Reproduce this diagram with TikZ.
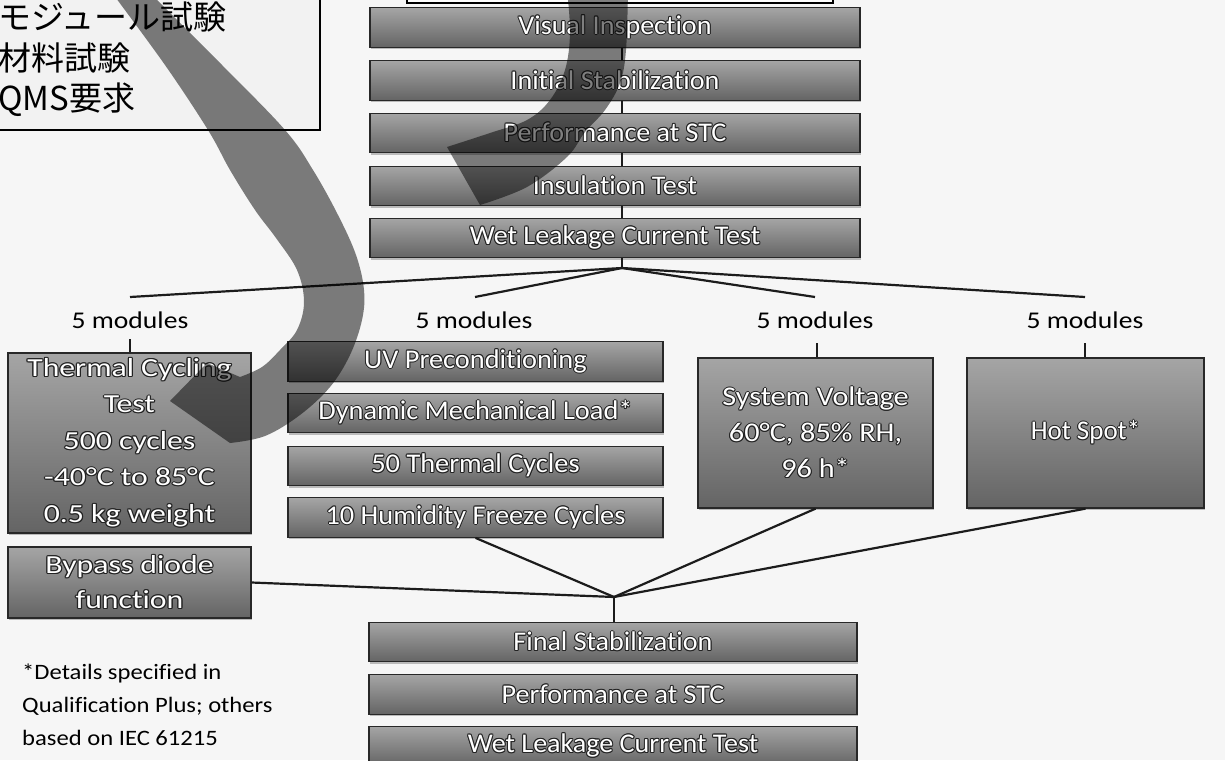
\documentclass[tikz,border=0pt]{standalone}
\usepackage{fontspec}
\setmainfont{Carlito}[Ligatures=NoCommon]
\newfontfamily\jpfont{Noto Sans CJK JP}
\usepackage{graphicx}
\usepackage{contour}
\contourlength{1.0pt}
\contournumber{8}
\usetikzlibrary{shadows}

\definecolor{bgc}{RGB}{246,246,246}
\definecolor{boxtop}{RGB}{165,165,165}
\definecolor{boxbot}{RGB}{100,100,100}
\definecolor{boxline}{RGB}{40,40,40}
\definecolor{glowc}{RGB}{35,35,35}
\definecolor{linec}{RGB}{28,28,28}
\definecolor{legendbg}{RGB}{242,242,242}

% white text with a dark glow, stretched horizontally by #1
\newcommand\gt[2]{\scalebox{#1}[1]{\contour{glowc}{#2}}}
% plain text stretched horizontally by #1
\newcommand\st[2]{\scalebox{#1}[1]{#2}}

\tikzset{
  testbox/.style={draw=boxline, line width=1.3pt, top color=boxtop, bottom color=boxbot,
    inner sep=0pt, text=white, align=center,
    drop shadow={shadow xshift=0.8pt, shadow yshift=-2pt, opacity=0.5}},
  stackbox/.style={testbox, minimum width=490pt, minimum height=39.5pt,
    font=\fontsize{27}{30}\selectfont},
  midbox/.style={testbox, minimum width=375pt, minimum height=39.5pt,
    font=\fontsize{27}{30}\selectfont},
  tallbox/.style={testbox, font=\fontsize{26}{36.5}\selectfont},
  modlabel/.style={inner sep=0pt, font=\fontsize{24}{26}\selectfont, text=black},
  link/.style={draw=linec, line width=1.6pt},
  fanline/.style={draw=linec, line width=2.2pt},
  sweep/.style={fill=black, fill opacity=0.5},
  jptext/.style={anchor=west, inner sep=0pt, font=\jpfont\fontsize{33}{36}\selectfont}
}

\begin{document}
\begin{tikzpicture}[x=1pt,y=-1pt]
\useasboundingbox (0,0) rectangle (1225,760);
\clip (0,0) rectangle (1225,760);
\fill[bgc] (0,0) rectangle (1225,760);

% legend frame, top left
\draw[fill=legendbg, line width=2pt] (-10,-10) rectangle (320,130);
\node[jptext] (jp1) at (-2,17.5) {モジュール試験};
\node[jptext] (jp2) at (-2,57.5) {材料試験};
\node[jptext] (jp3) at (-2,100) {QMS要求};

% frame at top centre
\draw[fill=white, line width=2pt] (407,-10) rectangle (833,3);

% initial sequence
\node[stackbox] (vis)   at (615,27.5) {\gt{1.04}{Visual Inspection}};
\node[stackbox] (init)  at (615,80.5) {\gt{1.04}{Initial Stabilization}};
\node[stackbox] (perf)  at (615,133)  {\gt{1.04}{Performance at STC}};
\node[stackbox] (insul) at (615,186)  {\gt{1.04}{Insulation Test}};
\node[stackbox] (wet)   at (615,238)  {\gt{1.04}{Wet Leakage Current Test}};

% module groups
\node[modlabel] (lb1) at (130,320)  {\st{1.15}{5 modules}};
\node[modlabel] (lb2) at (474,320)  {\st{1.15}{5 modules}};
\node[modlabel] (lb3) at (815,320)  {\st{1.15}{5 modules}};
\node[modlabel] (lb4) at (1085,320) {\st{1.15}{5 modules}};

\node[tallbox, minimum width=243pt, minimum height=180pt] (tcy) at (129.5,443)
  {\gt{1.22}{Thermal Cycling}\\ \gt{1.22}{Test}\\ \gt{1.22}{500 cycles}\\
   \gt{1.22}{-40°C to 85°C}\\ \gt{1.22}{0.5 kg weight}};
\node[tallbox, minimum width=243pt, minimum height=71pt,
  font=\fontsize{26}{35}\selectfont] (byp) at (129.5,582.5)
  {\gt{1.22}{Bypass diode}\\ \gt{1.22}{function}};

\node[midbox] (uv)  at (475.5,361.5) {\gt{1.05}{UV Preconditioning}};
\node[midbox] (dml) at (475.5,413)   {\gt{1.05}{Dynamic Mechanical Load*}};
\node[midbox] (tc)  at (475.5,466)   {\gt{1.05}{50 Thermal Cycles}};
\node[midbox] (hf)  at (475.5,517.5) {\gt{1.05}{10 Humidity Freeze Cycles}};

\node[tallbox, minimum width=235pt, minimum height=150pt,
  font=\fontsize{27}{36}\selectfont] (sysv) at (815.5,433)
  {\gt{1.12}{System Voltage}\\ \gt{1.12}{60°C, 85\% RH,}\\ \gt{1.12}{96 h*}};
\node[tallbox, minimum width=237pt, minimum height=150pt,
  font=\fontsize{27}{36}\selectfont] (hot) at (1085.5,433)
  {\gt{1.0}{Hot Spot*}};

% final sequence
\node[stackbox, minimum width=488pt] (fin)  at (613,642)   {\gt{1.04}{Final Stabilization}};
\node[stackbox, minimum width=488pt] (perf2) at (613,694.5) {\gt{1.04}{Performance at STC}};
\node[stackbox, minimum width=488pt] (wet2) at (613,746)   {\gt{1.04}{Wet Leakage Current Test}};

% footnote
\node[anchor=west, align=left, inner sep=0pt, font=\fontsize{22}{33}\selectfont] (note) at (22,705)
  {\st{1.12}{*Details specified in}\\ \st{1.12}{Qualification Plus; others}\\ \st{1.12}{based on IEC 61215}};

% connectors of the initial sequence
\coordinate (fan) at (622,268);
\foreach \a/\b in {vis/init, init/perf, perf/insul, insul/wet}
  \draw[link] (\a.south -| fan) -- (\b.north -| fan);
\draw[link] (wet.south -| fan) -- (fan);

% split into the four groups
\coordinate (m1) at (130,297);
\coordinate (m2) at (475,297);
\coordinate (m3) at (815,297);
\coordinate (m4) at (1085,297);
\foreach \m in {m1,m2,m3,m4}
  \draw[fanline] (fan) -- (\m);

\coordinate (t1) at (130,339);
\coordinate (t3) at (817,343);
\coordinate (t4) at (1085,343);
\draw[link] (t1) -- (t1 |- tcy.north);
\draw[link] (t3) -- (t3 |- sysv.north);
\draw[link] (t4) -- (t4 |- hot.north);

% merge into the final sequence
\coordinate (mrg) at (614,597);
\draw[fanline] (byp.east) -- (mrg);
\draw[fanline] (hf.south) -- (mrg);
\draw[fanline] (sysv.south) -- (mrg);
\draw[fanline] (hot.south) -- (mrg);
\draw[link] (mrg) -- (mrg |- fin.north);

% translucent curved arrow drawn over the chart
\fill[sweep]
  plot[smooth, tension=0.6] coordinates {(147,-10) (222,65) (285,130) (313,170) (338,215)
     (356,255) (364,290) (362,320) (350,355) (330,387) (300,415) (265,436) (230,443)}
  -- (170,401) -- (207,363)
  -- plot[smooth, tension=0.6] coordinates {(240,377) (262,367) (280,350) (297,330)
     (304,302) (297,270) (276,238) (255,210) (230,170) (208,130) (165,65) (110,-10)}
  -- cycle;
\fill[sweep]
  plot[smooth, tension=0.6] coordinates {(567,-10) (570,33) (565,70) (550,100) (527,120)
     (490,133) (447,147)}
  -- (480,205)
  -- plot[smooth, tension=0.6] coordinates {(480,205) (527,187) (567,157) (585,132)
     (605,110) (620,83) (626,50) (628,-10)}
  -- cycle;
\end{tikzpicture}
\end{document}
